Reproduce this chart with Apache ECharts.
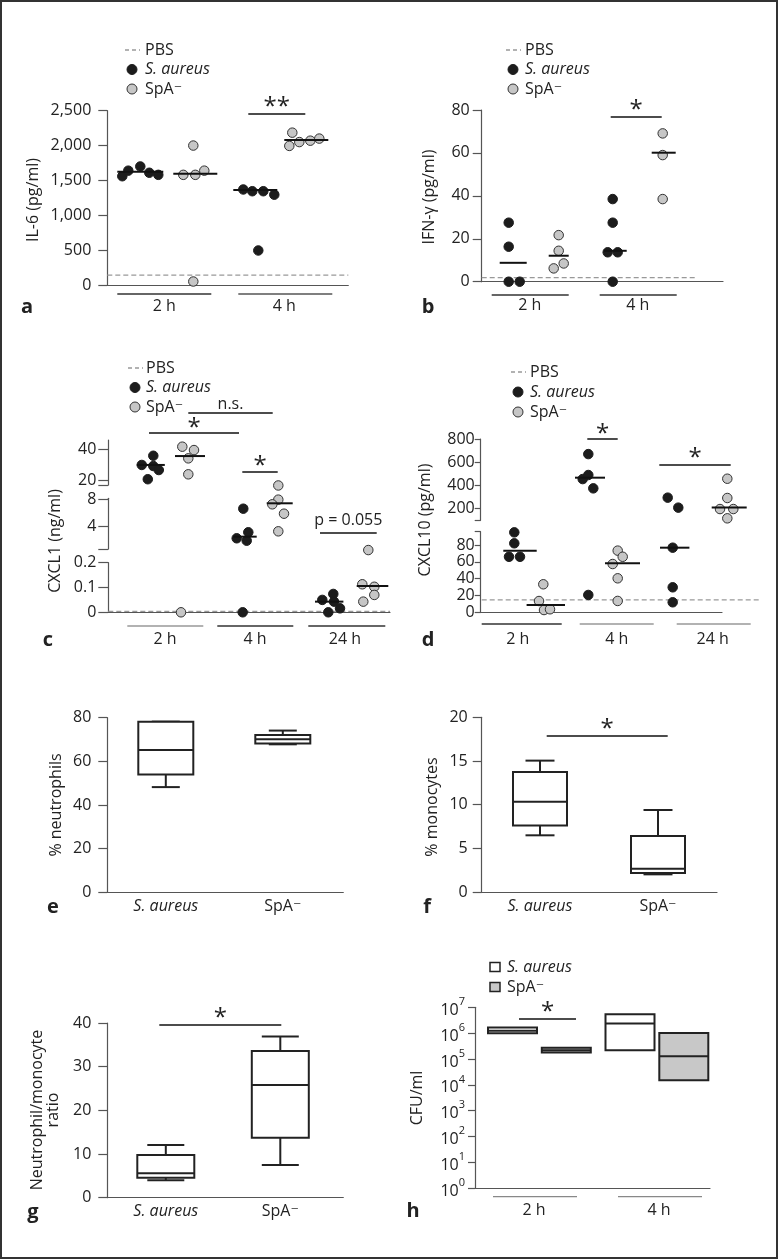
<!DOCTYPE html>
<html><head><meta charset="utf-8">
<script src="https://cdn.jsdelivr.net/npm/echarts@6/dist/echarts.min.js"></script>
<style>html,body{margin:0;padding:0;background:#fff}#c{width:778px;height:1259px}</style>
</head><body><div id="c"></div>
<script>
// ================= DATA =================
const TIME_2 = ['2 h', '4 h'];
const TIME_3 = ['2 h', '4 h', '24 h'];
const STRAINS = ['S. aureus', 'SpA⁻'];

// a – IL-6 (pg/ml), one list per time point
const IL6_SA = [[1560, 1640, 1700, 1610, 1580], [1370, 1345, 1345, 1295, 495]];
const IL6_SPA = [[1580, 2000, 1580, 1640, 50], [1995, 2185, 2050, 2070, 2100]];
const IL6_MED_SA = [1625, 1362];
const IL6_MED_SPA = [1595, 2080];
const IL6_PBS = 143;

// b – IFN-γ (pg/ml)
const IFN_SA = [[27.5, 16.3, 0, 0], [38.5, 27.5, 13.7, 13.7, 0]];
const IFN_SPA = [[21.7, 14.4, 6.2, 8.5], [69.1, 59.0, 38.5]];
const IFN_MED_SA = [8.8, 14.4];
const IFN_MED_SPA = [12.1, 60.1];
const IFN_PBS = 1.9;

// c – CXCL1 (ng/ml)
const CXCL1_SA = [[29.8, 35.8, 29.1, 26.5, 20.5], [6.56, 2.18, 3.07, 1.82, 0], [0.050, 0.074, 0.043, 0.016, 0]];
const CXCL1_SPA = [[41.7, 39.5, 34.1, 23.7, 0], [10.0, 7.9, 7.21, 5.82, 3.21], [0.113, 0.103, 0.070, 0.043, 0.251]];
const CXCL1_MED_SA = [29.8, 2.42, 0.043];
const CXCL1_MED_SPA = [35.6, 7.36, 0.106];
const CXCL1_PBS = 0.004;

// d – CXCL10 (pg/ml)
const CXCL10_SA = [[95, 82, 66, 66], [670, 455, 490, 375, 20.6], [295, 209, 76.8, 29.7, 11.9]];
const CXCL10_SPA = [[33.3, 13.4, 2.7, 3.6], [73.3, 66, 57.4, 40.4, 13.5], [458, 292, 197, 197, 117]];
const CXCL10_MED_SA = [73.3, 467, 76.8];
const CXCL10_MED_SPA = [8.7, 58.2, 211];
const CXCL10_PBS = 14.7;

// e, f, g – box plots [min, q1, median, q3, max] for S. aureus, SpA-
const NEUT = [[48.2, 54.0, 65.2, 78.2, 78.2], [67.8, 68.2, 70.1, 72.1, 74.1]];
const MONO = [[6.49, 7.6, 10.34, 13.74, 15.04], [2.02, 2.18, 2.67, 6.41, 9.39]];
const RATIO = [[3.97, 4.58, 5.57, 9.77, 12.06], [7.48, 13.74, 25.8, 33.6, 36.9]];

// h – CFU/ml [low, median, high] per time point
const CFU_SA = [[9.9e5, 1.25e6, 1.64e6], [2.18e5, 2.34e6, 5.37e6]];
const CFU_SPA = [[1.77e5, 2.18e5, 2.75e5], [1.5e4, 1.28e5, 1.02e6]];

// tick labels
const IL6_TICKS = [0, 500, 1000, 1500, 2000, 2500];
const CXCL1_TICKS = [[20, 40], [4, 8], [0, 0.1, 0.2]];
const CXCL10_TICKS = [[200, 400, 600, 800], [0, 20, 40, 60, 80]];
const CFU_TICKS = [1, 10, 100, 1e3, 1e4, 1e5, 1e6, 1e7];

// ================= LAYOUT / STYLE =================
const FONT = '"Open Sans", "DejaVu Sans", sans-serif';
const TXT = '#222', AX = '#555', BLACK = '#1c1c1c', GRAY = '#c6c6c6';
const GRIDS = [
  {left: 107.3, top: 110.7, width: 241, height: 174.3},   // 0 a
  {left: 481.7, top: 110, width: 241.3, height: 171.7},   // 1 b
  {left: 108.3, top: 440, width: 281.7, height: 45},      // 2 c top
  {left: 108.3, top: 498.3, width: 281.7, height: 50.7},  // 3 c mid
  {left: 108.3, top: 562.7, width: 281.7, height: 49.6},  // 4 c bottom
  {left: 480.7, top: 439, width: 241.3, height: 81.3},    // 5 d top
  {left: 480.7, top: 531.7, width: 241.3, height: 80.6},  // 6 d bottom
  {left: 107.3, top: 717.7, width: 236, height: 174.6},   // 7 e
  {left: 481.7, top: 717.3, width: 235.3, height: 174.7}, // 8 f
  {left: 107.3, top: 1023, width: 236, height: 174.7},    // 9 g
  {left: 475, top: 1007.3, width: 235, height: 181}       // 10 h
];
const LAY_A = {sa: {c: [3.3, 14.8], hw: [2.3, 2.2], jit: [[-1.8, -1.2, 0, 0.9, 1.8], [-1.2, -0.3, 0.8, 1.9, 0.3]]},
               spa: {c: [8.8, 19.9], hw: [2.2, 2.2], jit: [[-1.2, -0.2, 0, 0.9, -0.2], [-1.7, -1.4, -0.7, 0.4, 1.3]]}};
const LAY_B = {sa: {c: [3.15, 13.35], hw: [1.35, 1.15], jit: [[-0.45, -0.45, -0.45, 0.65], [-0.25, -0.25, -0.75, 0.25, -0.25]]},
               spa: {c: [7.7, 18.2], hw: [1.0, 1.2], jit: [[0, 0, -0.5, 0.5], [-0.1, -0.1, -0.1]]}};
const LAY_C = {sa: {c: [4.25, 13.67, 22.09], hw: [1.4, 1.17, 1.42], jit: [[-0.9, 0.25, 0.25, 0.8, -0.3], [-0.17, -0.83, 0.33, 0.17, -0.23], [-0.69, 0.41, 0.48, 1.08, -0.09]]},
               spa: {c: [8.17, 17.14, 26.42], hw: [1.5, 1.3, 1.58], jit: [[-0.77, 0.4, -0.17, -0.17, -0.9], [-0.14, -0.14, -0.74, 0.43, -0.14], [-1.02, 0.18, 0.18, -0.92, -0.42]]}};
const LAY_D = {sa: {c: [3.93, 10.93, 19.4], hw: [1.67, 1.5, 1.47], jit: [[-0.57, -0.57, -1.1, 0], [-0.17, -0.73, -0.17, 0.33, -0.17], [-0.7, 0.36, -0.2, -0.2, -0.2]]},
               spa: {c: [6.51, 14.18, 24.85], hw: [1.92, 1.75, 1.75], jit: [[-0.25, -0.68, -0.18, 0.42], [-0.48, 0.02, -0.98, -0.48, -0.48], [-0.19, -0.19, -0.92, 0.41, -0.19]]}};

const series = [];
const graphics = [];
const fontStr = (size, o = {}) => `${o.italic ? 'italic ' : ''}${o.bold ? 'bold ' : ''}${size}px ${FONT}`;

function scatter(gi, pts, filled) {
  return {type: 'scatter', xAxisIndex: gi, yAxisIndex: gi, data: pts, symbol: 'circle', symbolSize: 9.5,
    clip: false, silent: true, z: 3,
    itemStyle: {color: filled ? BLACK : GRAY, borderColor: filled ? BLACK : '#333', borderWidth: 1, opacity: 1}};
}
function segSeries(gi, items, st) {
  series.push({type: 'custom', xAxisIndex: gi, yAxisIndex: gi, clip: false, silent: true, z: st.z || 2,
    data: items, encode: {x: [0, 1], y: 2},
    renderItem: (p, api) => {
      const y = api.value(2);
      const a = api.coord([api.value(0), y]), b = api.coord([api.value(1), y]);
      const dy = st.dy || 0;
      const col = Array.isArray(st.color) ? st.color[p.dataIndex] : st.color;
      const ch = [{type: 'line', shape: {x1: a[0], y1: a[1] + dy, x2: b[0], y2: b[1] + dy},
        style: {stroke: col, lineWidth: st.width, lineDash: st.dash || null}}];
      if (st.text) ch.push({type: 'text', x: (a[0] + b[0]) / 2, y: a[1] + dy - st.textUp,
        style: {text: st.text, fill: TXT, font: fontStr(st.textSize || 16), textAlign: 'center', textVerticalAlign: 'middle'}});
      return {type: 'group', children: ch};
    }});
}
function dotPanel(route, lay, saVals, spaVals, saMed, spaMed) {
  [[saVals, saMed, lay.sa, true], [spaVals, spaMed, lay.spa, false]].forEach(([vals, meds, L, filled]) => {
    vals.forEach((arr, t) => {
      const byG = {};
      arr.forEach((v, i) => { const g = route(v); (byG[g] = byG[g] || []).push([L.c[t] + L.jit[t][i], v]); });
      Object.keys(byG).forEach(g => series.push(scatter(+g, byG[g], filled)));
      const m = meds[t];
      segSeries(route(m), [[L.c[t] - L.hw[t], L.c[t] + L.hw[t], m]], {color: '#111', width: 2, z: 4});
    });
  });
}
function boxSeries(gi, xs, rows, halfW, capW) {
  series.push({type: 'custom', xAxisIndex: gi, yAxisIndex: gi, clip: false, silent: true, z: 3,
    data: rows.map((r, i) => [xs[i]].concat(r)), encode: {x: 0, y: [1, 2, 3, 4, 5]},
    renderItem: (p, api) => {
      const x = api.value(0); const c = k => api.coord([x, api.value(k)]);
      const pMin = c(1), pQ1 = c(2), pMed = c(3), pQ3 = c(4), pMax = c(5); const cx = pMin[0];
      const st = {stroke: '#222', lineWidth: 2};
      return {type: 'group', children: [
        {type: 'line', shape: {x1: cx, y1: pQ3[1], x2: cx, y2: pMax[1]}, style: st},
        {type: 'line', shape: {x1: cx, y1: pQ1[1], x2: cx, y2: pMin[1]}, style: st},
        {type: 'line', shape: {x1: cx - capW, y1: pMax[1], x2: cx + capW, y2: pMax[1]}, style: st},
        {type: 'line', shape: {x1: cx - capW, y1: pMin[1], x2: cx + capW, y2: pMin[1]}, style: st},
        {type: 'rect', shape: {x: cx - halfW, y: pQ3[1], width: 2 * halfW, height: pQ1[1] - pQ3[1]}, style: {stroke: '#222', lineWidth: 2, fill: '#fff'}},
        {type: 'line', shape: {x1: cx - halfW, y1: pMed[1], x2: cx + halfW, y2: pMed[1]}, style: st}
      ]};
    }});
}
function cfuSeries(gi, xs, rows, fill) {
  series.push({type: 'custom', xAxisIndex: gi, yAxisIndex: gi, clip: false, silent: true, z: 3,
    data: rows.map((r, i) => [xs[i]].concat(r)), encode: {x: 0, y: [1, 2, 3]},
    renderItem: (p, api) => {
      const x = api.value(0); const c = k => api.coord([x, api.value(k)]);
      const lo = c(1), md = c(2), hi = c(3), hw = 24.5;
      return {type: 'group', children: [
        {type: 'rect', shape: {x: lo[0] - hw, y: hi[1], width: 2 * hw, height: lo[1] - hi[1]}, style: {stroke: '#222', lineWidth: 2, fill}},
        {type: 'line', shape: {x1: lo[0] - hw, y1: md[1], x2: lo[0] + hw, y2: md[1]}, style: {stroke: '#222', lineWidth: 2}}
      ]};
    }});
}

// ---- axes
function xAx(gi, o) {
  const ax = {type: 'value', gridIndex: gi, min: 0, max: GRIDS[gi].width / 10, show: o.show !== false,
    axisLine: {show: true, onZero: false, lineStyle: {color: AX, width: 1.2}}, axisTick: {show: false}, splitLine: {show: false},
    axisLabel: {show: false}};
  if (o.labels) ax.axisLabel = {show: true, customValues: o.pos, margin: o.margin, color: TXT, fontSize: 16, fontFamily: FONT,
    formatter: v => { const s = o.labels[o.pos.indexOf(v)] || ''; return s === 'S. aureus' ? '{i|S. aureus}' : s; },
    rich: {i: {fontStyle: 'italic', fontSize: 16, fontFamily: FONT, color: TXT}}};
  return ax;
}
function yAx(gi, o) {
  const ax = {type: o.log ? 'log' : 'value', gridIndex: gi, min: o.min, max: o.max,
    axisLine: {show: true, onZero: false, lineStyle: {color: AX, width: 1.2}},
    axisTick: {show: true, length: o.tick || 9, lineStyle: {color: AX, width: 1.2}},
    axisLabel: {show: true, margin: o.margin, color: TXT, fontSize: 16, fontFamily: FONT},
    splitLine: {show: false}};
  if (o.log) ax.logBase = 10;
  if (o.interval) ax.interval = o.interval;
  if (o.ticks) ax.axisTick.customValues = o.ticks;
  if (o.labels) ax.axisLabel.customValues = o.labels;
  if (o.fmt) ax.axisLabel.formatter = o.fmt;
  if (o.rich) ax.axisLabel.rich = o.rich;
  return ax;
}
const xAxes = [
  xAx(0, {labels: TIME_2, pos: [5.7, 17.7], margin: 13}),
  xAx(1, {labels: TIME_2, pos: [4.8, 15.6], margin: 16}),
  xAx(2, {show: false}), xAx(3, {show: false}),
  xAx(4, {labels: TIME_3, pos: [5.67, 14.67, 23.67], margin: 19}),
  xAx(5, {show: false}),
  xAx(6, {labels: TIME_3, pos: [3.7, 13.6, 23.2], margin: 19}),
  xAx(7, {labels: STRAINS, pos: [5.85, 17.55], margin: 6}),
  xAx(8, {labels: STRAINS, pos: [5.83, 17.63], margin: 6}),
  xAx(9, {labels: STRAINS, pos: [5.85, 17.3], margin: 6}),
  xAx(10, {labels: TIME_2, pos: [5.9, 18.4], margin: 14})
];
const yAxes = [
  yAx(0, {min: 0, max: 2500, interval: 500, labels: IL6_TICKS, margin: 16, fmt: v => v.toLocaleString('en-US')}),
  yAx(1, {min: 0, max: 80, interval: 20, margin: 12}),
  yAx(2, {min: 16.74, max: 46.06, ticks: [16.74].concat(CXCL1_TICKS[0]), labels: CXCL1_TICKS[0], margin: 12, tick: 10}),
  yAx(3, {min: 0.593, max: 8.1, ticks: [0.593].concat(CXCL1_TICKS[1]), labels: CXCL1_TICKS[1], margin: 12, tick: 10}),
  yAx(4, {min: 0, max: 0.2, ticks: CXCL1_TICKS[2], labels: CXCL1_TICKS[2], margin: 12, tick: 10}),
  yAx(5, {min: 100, max: 800, ticks: [100].concat(CXCL10_TICKS[0]), labels: CXCL10_TICKS[0], margin: 6, tick: 6}),
  yAx(6, {min: 0, max: 95.8, ticks: CXCL10_TICKS[1].concat([95.8]), labels: CXCL10_TICKS[1], margin: 6, tick: 6}),
  yAx(7, {min: 0, max: 80, interval: 20, margin: 16}),
  yAx(8, {min: 0, max: 20, interval: 5, margin: 14}),
  yAx(9, {min: 0, max: 40, interval: 10, margin: 16}),
  yAx(10, {log: true, min: 1, max: 1e7, ticks: CFU_TICKS, labels: CFU_TICKS, margin: 10, tick: 7,
    fmt: v => '{b|10}{s|' + Math.round(Math.log10(v)) + '}',
    rich: {b: {fontSize: 16, fontFamily: FONT, color: TXT, lineHeight: 22, verticalAlign: 'bottom'},
           s: {fontSize: 11, fontFamily: FONT, color: TXT, lineHeight: 12, verticalAlign: 'top'}}})
];

// ---- panel a
dotPanel(() => 0, LAY_A, IL6_SA, IL6_SPA, IL6_MED_SA, IL6_MED_SPA);
segSeries(0, [[0, 24.1, IL6_PBS]], {color: '#999', width: 1.3, dash: [5, 3], z: 1});
segSeries(0, [[1.0, 10.4, 0], [13.1, 22.5, 0]], {color: ['#333', '#555'], width: 1.3, dy: 9});
segSeries(0, [[14.1, 19.8, 2453]], {color: '#111', width: 1.5, text: '**', textSize: 24, textUp: 7});
// ---- panel b
dotPanel(() => 1, LAY_B, IFN_SA, IFN_SPA, IFN_MED_SA, IFN_MED_SPA);
segSeries(1, [[0, 21.6, IFN_PBS]], {color: '#999', width: 1.3, dash: [5, 3], z: 1});
segSeries(1, [[1.0, 8.7, 0], [11.8, 19.5, 0]], {color: '#333', width: 1.3, dy: 13.3});
segSeries(1, [[12.9, 18.0, 76.7]], {color: '#111', width: 1.5, text: '*', textSize: 24, textUp: 7});
// ---- panel c (broken axis)
const routeC = v => v >= 15 ? 2 : (v >= 0.5 ? 3 : 4);
dotPanel(routeC, LAY_C, CXCL1_SA, CXCL1_SPA, CXCL1_MED_SA, CXCL1_MED_SPA);
segSeries(4, [[0, 28.17, CXCL1_PBS]], {color: '#999', width: 1.3, dash: [5, 3], z: 1});
segSeries(4, [[1.9, 9.5, 0], [10.9, 18.5, 0], [20.0, 27.7, 0]], {color: ['#999', '#333', '#333'], width: 1.3, dy: 13.7});
segSeries(2, [[4.07, 13.07, 50.6]], {color: '#111', width: 1.5, text: '*', textSize: 24, textUp: 5});
segSeries(2, [[8.0, 16.44, 63.65]], {color: '#111', width: 1.5, text: 'n.s.', textSize: 16, textUp: 9});
segSeries(2, [[13.4, 16.94, 25.2]], {color: '#111', width: 1.5, text: '*', textSize: 24, textUp: 6});
segSeries(4, [[21.17, 26.84, 0.32]], {color: '#111', width: 1.5, text: 'p = 0.055', textSize: 16, textUp: 13});
// ---- panel d (broken axis)
const routeD = v => v >= 100 ? 5 : 6;
dotPanel(routeD, LAY_D, CXCL10_SA, CXCL10_SPA, CXCL10_MED_SA, CXCL10_MED_SPA);
segSeries(6, [[0.1, 28.1, CXCL10_PBS]], {color: '#999', width: 1.3, dash: [5, 3], z: 1});
segSeries(6, [[0.1, 8.1, 0], [9.9, 17.3, 0], [19.6, 27.0, 0]], {color: ['#333', '#999', '#999'], width: 1.3, dy: 11.7});
segSeries(5, [[10.66, 13.7, 800]], {color: '#111', width: 1.5, text: '*', textSize: 24, textUp: 5});
segSeries(5, [[17.86, 25.0, 576]], {color: '#111', width: 1.5, text: '*', textSize: 24, textUp: 7});
// ---- panels e, f, g
boxSeries(7, [5.85, 17.55], NEUT, 27.5, 14);
boxSeries(8, [5.83, 17.63], MONO, 27, 14.5);
segSeries(8, [[6.5, 18.6, 17.86]], {color: '#111', width: 1.5, text: '*', textSize: 24, textUp: 7});
boxSeries(9, [5.85, 17.3], RATIO, 28.5, 18.5);
segSeries(9, [[5.2, 17.4, 39.54]], {color: '#111', width: 1.5, text: '*', textSize: 24, textUp: 7});
// ---- panel h
cfuSeries(10, [3.75, 15.5], CFU_SA, '#ffffff');
cfuSeries(10, [9.13, 20.88], CFU_SPA, '#c8c8c8');
segSeries(10, [[4.4, 10.1, 3.53e6]], {color: '#111', width: 1.5, text: '*', textSize: 24, textUp: 7});
segSeries(10, [[1.8, 10.2, 1], [14.3, 22.7, 1]], {color: '#888', width: 1.3, dy: 8.4});

// ---- text decorations
function gText(x, y, text, o = {}) {
  graphics.push({type: 'text', x, y, rotation: o.rot || 0, silent: true, z: 10,
    style: {text, font: fontStr(o.size || 16, o), fill: TXT, textAlign: o.align || 'left', textVerticalAlign: 'middle', lineHeight: o.lh || undefined}});
}
function legend3(x, xt, y0, dy) {
  graphics.push({type: 'line', silent: true, shape: {x1: x - 7, y1: y0, x2: x + 8, y2: y0}, style: {stroke: '#999', lineWidth: 1.3, lineDash: [4, 3]}});
  gText(xt, y0, 'PBS');
  graphics.push({type: 'circle', silent: true, shape: {cx: x, cy: y0 + dy, r: 5}, style: {fill: BLACK, stroke: BLACK, lineWidth: 1}});
  gText(xt, y0 + dy, STRAINS[0], {italic: true});
  graphics.push({type: 'circle', silent: true, shape: {cx: x, cy: y0 + 2 * dy, r: 5}, style: {fill: GRAY, stroke: '#333', lineWidth: 1}});
  gText(xt, y0 + 2 * dy, STRAINS[1]);
}
legend3(132, 145, 50, 19.5);
legend3(513, 525, 50, 19.5);
legend3(135, 146, 368, 19.5);
legend3(518, 530, 372, 20);
// h legend
graphics.push({type: 'rect', silent: true, shape: {x: 490, y: 962.5, width: 10, height: 9}, style: {fill: '#fff', stroke: '#222', lineWidth: 1.5}});
gText(507, 967, STRAINS[0], {italic: true});
graphics.push({type: 'rect', silent: true, shape: {x: 490, y: 982.5, width: 10, height: 9}, style: {fill: '#c8c8c8', stroke: '#222', lineWidth: 1.5}});
gText(507, 987, STRAINS[1]);
// axis titles
const R = Math.PI / 2;
gText(33, 200, 'IL-6 (pg/ml)', {rot: R, align: 'center'});
gText(429, 197, 'IFN-γ (pg/ml)', {rot: R, align: 'center'});
gText(55, 541, 'CXCL1 (ng/ml)', {rot: R, align: 'center'});
gText(425, 520, 'CXCL10 (pg/ml)', {rot: R, align: 'center'});
gText(56, 805, '% neutrophils', {rot: R, align: 'center'});
gText(432, 807, '% monocytes', {rot: R, align: 'center'});
gText(45, 1110, 'Neutrophil/monocyte\nratio', {rot: R, align: 'center', lh: 16});
gText(417, 1098, 'CFU/ml', {rot: R, align: 'center'});
// panel letters
[['a', 27, 307], ['b', 428, 307], ['c', 48, 640], ['d', 428, 640], ['e', 53, 907], ['f', 427, 907], ['g', 33, 1212], ['h', 413, 1211]]
  .forEach(([t, x, y]) => gText(x, y, t, {bold: true, size: 20, align: 'center'}));
// frame
graphics.push({type: 'rect', silent: true, z: 20, shape: {x: 1, y: 1, width: 776, height: 1257}, style: {fill: 'none', stroke: '#333', lineWidth: 2}});

const chart = echarts.init(document.getElementById('c'), null, {renderer: 'canvas'});
chart.setOption({
  animation: false, backgroundColor: '#fff',
  textStyle: {fontFamily: FONT},
  grid: GRIDS.map(g => Object.assign({containLabel: false}, g)),
  xAxis: xAxes, yAxis: yAxes, series, graphic: graphics
});
</script></body></html>
